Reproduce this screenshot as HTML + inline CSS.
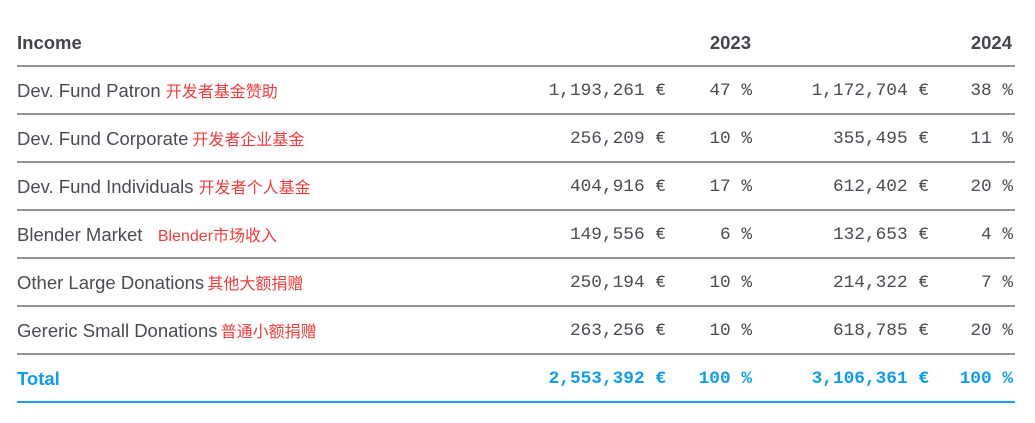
<!DOCTYPE html>
<html><head><meta charset="utf-8"><style>
body{margin:0;width:1035px;height:423px;background:#fff;position:relative;overflow:hidden;font-family:"Liberation Sans","Noto Sans CJK SC",sans-serif;color:#4b4b55}
.l{position:absolute;left:17px;width:998px;height:2px;background:#939399}
.t{position:absolute;white-space:nowrap;line-height:20px}
.lab{left:17px;font-size:18.5px}
.cn{color:#f03c3c;font-size:16px;font-family:"Liberation Sans","Noto Sans CJK SC",sans-serif}
.m{font-family:"Liberation Mono",monospace;font-size:17.8px;text-align:right;color:#4b4b55}
.h{font-weight:bold;font-size:18.5px;color:#45454f}
.b{color:#119cf0;font-weight:bold}
</style></head><body>
<div class="t h" style="left:17px;top:33px">Income</div>
<div class="t h" style="right:284px;top:33px">2023</div>
<div class="t h" style="right:23px;top:33px">2024</div>
<div class="l" style="top:65px"></div>
<div class="l" style="top:113px"></div>
<div class="l" style="top:161px"></div>
<div class="l" style="top:209px"></div>
<div class="l" style="top:257px"></div>
<div class="l" style="top:305px"></div>
<div class="l" style="top:353px"></div>
<div class="l" style="top:401px;background:#1aa0f2"></div>

<div class="t lab" style="top:81px">Dev. Fund Patron <span class="cn">开发者基金赞助</span></div>
<div class="t lab" style="top:129px">Dev. Fund Corporate<span class="cn" style="margin-left:4px">开发者企业基金</span></div>
<div class="t lab" style="top:177px">Dev. Fund Individuals <span class="cn">开发者个人基金</span></div>
<div class="t lab" style="top:225px">Blender Market &nbsp; <span class="cn">Blender市场收入</span></div>
<div class="t lab" style="top:273px">Other Large Donations <span class="cn" style="margin-left:-2px">其他大额捐赠</span></div>
<div class="t lab" style="top:321px">Gereric Small Donations <span class="cn" style="margin-left:-2px">普通小额捐赠</span></div>
<div class="t lab b" style="top:369px">Total</div>

<div class="t m" style="right:369px;top:81px">1,193,261 €</div><div class="t m" style="right:283px;top:81px">47 %</div><div class="t m" style="right:106px;top:81px">1,172,704 €</div><div class="t m" style="right:22px;top:81px">38 %</div>
<div class="t m" style="right:369px;top:129px">256,209 €</div><div class="t m" style="right:283px;top:129px">10 %</div><div class="t m" style="right:106px;top:129px">355,495 €</div><div class="t m" style="right:22px;top:129px">11 %</div>
<div class="t m" style="right:369px;top:177px">404,916 €</div><div class="t m" style="right:283px;top:177px">17 %</div><div class="t m" style="right:106px;top:177px">612,402 €</div><div class="t m" style="right:22px;top:177px">20 %</div>
<div class="t m" style="right:369px;top:225px">149,556 €</div><div class="t m" style="right:283px;top:225px">6 %</div><div class="t m" style="right:106px;top:225px">132,653 €</div><div class="t m" style="right:22px;top:225px">4 %</div>
<div class="t m" style="right:369px;top:273px">250,194 €</div><div class="t m" style="right:283px;top:273px">10 %</div><div class="t m" style="right:106px;top:273px">214,322 €</div><div class="t m" style="right:22px;top:273px">7 %</div>
<div class="t m" style="right:369px;top:321px">263,256 €</div><div class="t m" style="right:283px;top:321px">10 %</div><div class="t m" style="right:106px;top:321px">618,785 €</div><div class="t m" style="right:22px;top:321px">20 %</div>
<div class="t m b" style="right:369px;top:369px">2,553,392 €</div><div class="t m b" style="right:283px;top:369px">100 %</div><div class="t m b" style="right:106px;top:369px">3,106,361 €</div><div class="t m b" style="right:22px;top:369px">100 %</div>
</body></html>
